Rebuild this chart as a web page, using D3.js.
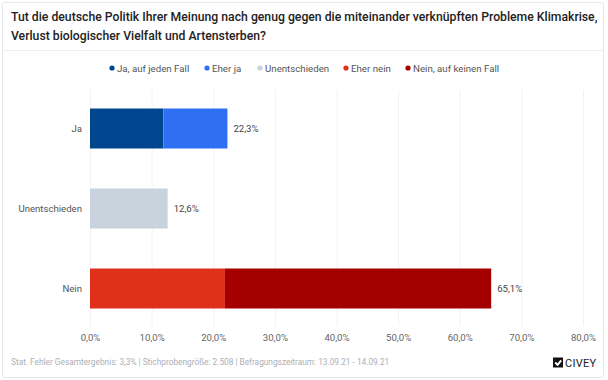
<!DOCTYPE html>
<html><head><meta charset="utf-8">
<script src="https://cdn.jsdelivr.net/npm/d3@7"></script>
<style>
body{margin:0;background:#fff;font-family:Roboto,"Noto Sans",sans-serif;}
svg{display:block;}
</style></head>
<body>
<svg id="c" width="608" height="380"></svg>
<script>
const categories = ["Ja", "Unentschieden", "Nein"];
const seriesNames = ["Ja, auf jeden Fall", "Eher ja", "Unentschieden", "Eher nein", "Nein, auf keinen Fall"];
const seriesColors = ["#00468f", "#2f6ff3", "#c8d3de", "#e0301a", "#a40000"];
// values per category for each series (percent)
const jaAufJedenFall = [11.9, 0, 0];
const eherJa = [10.4, 0, 0];
const unentschieden = [0, 12.6, 0];
const eherNein = [0, 0, 21.9];
const neinAufKeinenFall = [0, 0, 43.2];
const totalLabels = ["22,3%", "12,6%", "65,1%"];
const xTicks = [0, 10, 20, 30, 40, 50, 60, 70, 80];
const titleLines = ["Tut die deutsche Politik Ihrer Meinung nach genug gegen die miteinander verknüpften Probleme Klimakrise,", "Verlust biologischer Vielfalt und Artensterben?"];
const footer = "Stat. Fehler Gesamtergebnis: 3,3% | Stichprobengröße: 2.508 | Befragungszeitraum: 13.09.21 - 14.09.21";

const svg = d3.select("#c");
// card
svg.append("rect").attr("x",2.5).attr("y",2.5).attr("width",601).attr("height",375)
  .attr("fill","#fff").attr("stroke","#e6e9ec").attr("rx",2);
svg.append("line").attr("x1",3).attr("x2",603).attr("y1",50.5).attr("y2",50.5).attr("stroke","#eceef0");

const titles = svg.selectAll("text.title").data(titleLines).join("text").attr("class","title")
  .attr("x",11).attr("y",(d,i)=>21+i*19).attr("font-size",13).attr("font-weight",500)
  .attr("fill","#222").text(d=>d);
// fit first line to reference width (~587px)
const w0 = titles.nodes()[0].getComputedTextLength();
const fs = Math.min(13, 13*587/w0);
titles.attr("font-size",fs);

// legend
const legendX = [112, 207, 260, 346, 408];
const lg = svg.append("g");
seriesNames.forEach((n,i)=>{
  lg.append("circle").attr("cx",legendX[i]).attr("cy",68).attr("r",2.6).attr("fill",seriesColors[i]);
  lg.append("text").attr("x",legendX[i]+5).attr("y",71.5).attr("font-size",9.7).attr("fill","#555").text(n);
});

const x = d3.scaleLinear().domain([0,80]).range([90,583]);
const y = d3.scaleBand().domain(categories).range([88.5,328.5]).paddingInner(0.5).paddingOuter(0.25);

// grid
svg.append("g").selectAll("line").data(xTicks).join("line")
  .attr("x1",d=>x(d)+0.5).attr("x2",d=>x(d)+0.5).attr("y1",90).attr("y2",326)
  .attr("stroke","#f1f2f4");

const series = [jaAufJedenFall, eherJa, unentschieden, eherNein, neinAufKeinenFall];
const table = categories.map((c,ci)=>{const o={cat:c}; seriesNames.forEach((s,si)=>o[s]=series[si][ci]); return o;});
const stack = d3.stack().keys(seriesNames)(table);
const gBars = svg.append("g");
stack.forEach((layer,si)=>{
  gBars.selectAll(null).data(layer.filter(d=>d[1]-d[0]>0)).join("rect")
    .attr("x",d=>x(d[0])).attr("width",d=>x(d[1])-x(d[0]))
    .attr("y",d=>y(d.data.cat)).attr("height",y.bandwidth())
    .attr("fill",seriesColors[si]);
});

// totals
svg.selectAll("text.val").data(categories).join("text").attr("class","val")
  .attr("x",(c,i)=>x(d3.sum(series,s=>s[i]))+6).attr("y",c=>y(c)+y.bandwidth()/2+3.5)
  .attr("font-size",9.6).attr("fill","#444").text((c,i)=>totalLabels[i]);

// category labels
svg.selectAll("text.cat").data(categories).join("text").attr("class","cat")
  .attr("x",82).attr("y",c=>y(c)+y.bandwidth()/2+3.5).attr("text-anchor","end")
  .attr("font-size",9.6).attr("fill","#555").text(c=>c);

// x axis
const ax = svg.append("g").attr("transform","translate(0,326)")
  .call(d3.axisBottom(x).tickValues(xTicks).tickSize(0).tickPadding(8).tickFormat(d=>d.toFixed(1).replace(".",",")+"%"));
ax.select(".domain").remove();
ax.selectAll("text").attr("font-size",9.6).attr("fill","#666").attr("font-family","Roboto,sans-serif");

// footer
svg.append("text").attr("x",11).attr("y",365).attr("font-size",8.3).attr("fill","#aab0b6").text(footer);
// logo
const logo = svg.append("g").attr("transform","translate(553,357.5)");
logo.append("rect").attr("width",10).attr("height",10).attr("fill","#111");
logo.append("path").attr("d","M2.2,5 L4.6,7.4 L8.2,2.8").attr("stroke","#fff").attr("stroke-width",1.9).attr("fill","none");
logo.append("text").attr("x",12).attr("y",9.6).attr("font-size",11).attr("fill","#222").attr("letter-spacing",0.3).text("CIVEY");
</script>
</body></html>
